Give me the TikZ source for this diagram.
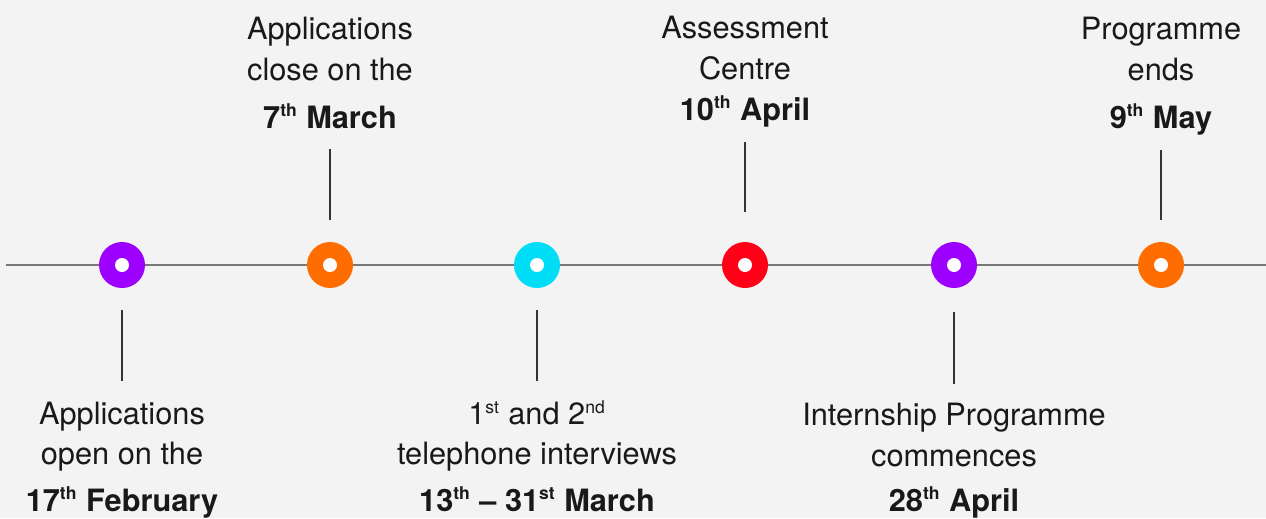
\documentclass[tikz,border=0pt]{standalone}
\usepackage{fontspec}
\setmainfont{TeX Gyre Heros}
\usetikzlibrary{positioning}
\definecolor{bggray}{HTML}{F3F3F3}
\definecolor{linegray}{HTML}{777777}
\definecolor{stemgray}{HTML}{333333}
\definecolor{evpurple}{HTML}{9E00FF}
\definecolor{evorange}{HTML}{FF6D00}
\definecolor{evcyan}{HTML}{00DDF7}
\definecolor{evred}{HTML}{FF0017}
\newcommand{\lbfont}{\fontsize{17.5}{23.2}\selectfont}
\newcommand{\nth}[1]{\textsuperscript{\fontsize{10}{10}\selectfont #1}}
\begin{document}
\begin{tikzpicture}[
      x=0.02cm, y=-0.02cm,
      dot/.style={circle, fill=#1, minimum size=0.92cm, inner sep=0pt,
                  path picture={\fill[white] (path picture bounding box.center) circle (0.14cm);}},
      stem/.style={draw=stemgray, line width=0.6pt},
      lbl/.style={font=\lbfont, align=center, anchor=base, inner sep=0pt, text=black!90}
    ]
      \fill[bggray] (0,0) rectangle (1266,518);
      \useasboundingbox (0,0) rectangle (1266,518);
      \coordinate (lstart) at (6,265);
      \coordinate (lend) at (1266,265);
      \draw[linegray, line width=1.2pt] (lstart) -- (lend);
      \foreach \n/\x/\c in {1/122/evpurple, 2/330/evorange, 3/537/evcyan,
                            4/745/evred, 5/954/evpurple, 6/1161/evorange} {
        \node[dot=\c] (c\n) at (\x,265) {};
      }
      \draw[stem] (c1.south) ++(0,22) -- ++(0,71);
      \draw[stem] (c2.north) ++(0,-22) -- ++(0,-71);
      \draw[stem] (c3.south) ++(0,22) -- ++(0,71);
      \draw[stem] (c4.north) ++(0,-30) -- ++(0,-70);
      \draw[stem] (c5.south) ++(0,24) -- ++(0,72);
      \draw[stem] (c6.north) ++(0,-22) -- ++(0,-70);
      \node[lbl] (l1) at (122,511) {Applications\\open on the\\[3pt]
        \textbf{17\nth{th} February}};
      \node[lbl] (l2) at (330,128) {Applications\\close on the\\[4pt]
        \textbf{7\nth{th} March}};
      \node[lbl] (l3) at (537,511) {1\nth{st} and 2\nth{nd}\\telephone interviews\\[3pt]
        \textbf{13\nth{th} -- 31\nth{st} March}};
      \node[lbl] (l4) at (745,120) {Assessment\\Centre\\
        \textbf{10\nth{th} April}};
      \node[lbl] (l5) at (954,511) {Internship Programme\\commences\\[2pt]
        \textbf{28\nth{th} April}};
      \node[lbl] (l6) at (1161,128) {Programme\\ends\\[4pt]
        \textbf{9\nth{th} May}};
    \end{tikzpicture}
\end{document}
